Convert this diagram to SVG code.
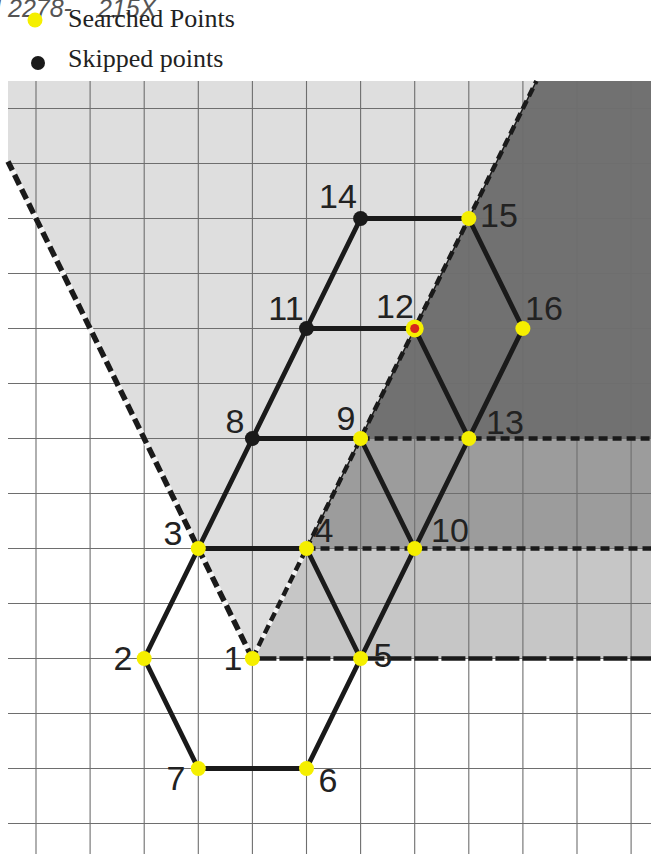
<svg xmlns="http://www.w3.org/2000/svg" width="654" height="854" viewBox="0 0 654 854">
<style>
.lbl{font-family:"Liberation Sans",Arial,sans-serif;font-size:34px;fill:#222;text-anchor:middle}
.leg{font-family:"Liberation Serif","Times New Roman",serif;font-size:26px;fill:#222}
.wm{font-family:"Liberation Sans",Arial,sans-serif;font-size:25px;font-style:italic;fill:#555}
.grid line{stroke:#6e6e6e;stroke-width:1.1}
.edge{stroke:#1a1a1a;stroke-width:4.8;fill:none;stroke-linecap:round;stroke-linejoin:round}
.dash{stroke:#1a1a1a;stroke-width:4.5;fill:none;stroke-dasharray:9 5}
.bdash{stroke:#1a1a1a;stroke-width:5.5;fill:none;stroke-dasharray:11 5}
.wline{stroke:#f4f4f4;stroke-width:5.5;fill:none}
.sp{fill:#f5ef00}
.kp{fill:#1a1a1a}
</style>
<rect width="654" height="854" fill="#ffffff"/>
<text class="wm" x="-17" y="17">N 2278-<tspan x="98">215X</tspan></text>
<circle class="sp" cx="35" cy="20" r="7.5"/>
<text class="leg" x="68" y="27">Searched Points</text>
<circle class="kp" cx="38" cy="63" r="7"/>
<text class="leg" x="68" y="67">Skipped points</text>
<g id="regions">
<polygon points="8,81 536.4,81 252.4,658.5 8,161.5" fill="#dedede"/>
<polygon points="536.4,81 651,81 651,438.5 360.6,438.5" fill="#717171"/>
<polygon points="360.6,438.5 651,438.5 651,548.5 306.5,548.5" fill="#9c9c9c"/>
<polygon points="306.5,548.5 651,548.5 651,658.5 252.4,658.5" fill="#c6c6c6"/>
</g>
<g class="grid" id="grid">
<line x1="36" y1="81" x2="36" y2="854"/>
<line x1="90.1" y1="81" x2="90.1" y2="854"/>
<line x1="144.2" y1="81" x2="144.2" y2="854"/>
<line x1="198.3" y1="81" x2="198.3" y2="854"/>
<line x1="252.4" y1="81" x2="252.4" y2="854"/>
<line x1="306.5" y1="81" x2="306.5" y2="854"/>
<line x1="360.6" y1="81" x2="360.6" y2="854"/>
<line x1="414.7" y1="81" x2="414.7" y2="854"/>
<line x1="468.8" y1="81" x2="468.8" y2="854"/>
<line x1="522.9" y1="81" x2="522.9" y2="854"/>
<line x1="577" y1="81" x2="577" y2="854"/>
<line x1="631.1" y1="81" x2="631.1" y2="854"/>
<line x1="8" y1="108.5" x2="651" y2="108.5"/>
<line x1="8" y1="163.5" x2="651" y2="163.5"/>
<line x1="8" y1="218.5" x2="651" y2="218.5"/>
<line x1="8" y1="273.5" x2="651" y2="273.5"/>
<line x1="8" y1="328.5" x2="651" y2="328.5"/>
<line x1="8" y1="383.5" x2="651" y2="383.5"/>
<line x1="8" y1="438.5" x2="651" y2="438.5"/>
<line x1="8" y1="493.5" x2="651" y2="493.5"/>
<line x1="8" y1="548.5" x2="651" y2="548.5"/>
<line x1="8" y1="603.5" x2="651" y2="603.5"/>
<line x1="8" y1="658.5" x2="651" y2="658.5"/>
<line x1="8" y1="713.5" x2="651" y2="713.5"/>
<line x1="8" y1="768.5" x2="651" y2="768.5"/>
<line x1="8" y1="823.5" x2="651" y2="823.5"/>
</g>
<g id="connectors">
<line class="wline" x1="252.4" y1="658.5" x2="8" y2="161.5"/>
<line class="bdash" x1="252.4" y1="658.5" x2="8" y2="161.5"/>
<line class="wline" x1="252.4" y1="658.5" x2="306.5" y2="548.5" style="stroke-width:4.5"/>
<line class="dash" x1="252.4" y1="658.5" x2="306.5" y2="548.5"/>
<line x1="306.5" y1="548.5" x2="536.4" y2="81" stroke="#1a1a1a" stroke-width="1.5"/>
<line class="dash" x1="306.5" y1="548.5" x2="536.4" y2="81"/>
<line class="dash" x1="360.6" y1="438.5" x2="651" y2="438.5"/>
<line class="dash" x1="306.5" y1="548.5" x2="651" y2="548.5"/>
<line class="dash" x1="252.4" y1="658.5" x2="651" y2="658.5" style="stroke-dasharray:24 3"/>
<polyline class="edge" points="198.3,768.5 144.2,658.5 198.3,548.5 252.4,438.5 306.5,328.5 360.6,218.5 468.8,218.5 522.9,328.5 468.8,438.5 414.7,548.5 360.6,658.5 306.5,768.5 198.3,768.5"/>
<line class="edge" x1="198.3" y1="548.5" x2="306.5" y2="548.5"/>
<line class="edge" x1="306.5" y1="548.5" x2="360.6" y2="658.5"/>
<line class="edge" x1="252.4" y1="438.5" x2="360.6" y2="438.5"/>
<line class="edge" x1="360.6" y1="438.5" x2="414.7" y2="548.5"/>
<line class="edge" x1="306.5" y1="328.5" x2="414.7" y2="328.5"/>
<line class="edge" x1="414.7" y1="328.5" x2="468.8" y2="438.5"/>
</g>
<g id="p1"><circle class="sp" cx="252.4" cy="658.5" r="7.5"/><text class="lbl" x="233" y="670">1</text></g>
<g id="p2"><circle class="sp" cx="144.2" cy="658.5" r="7.5"/><text class="lbl" x="123" y="670">2</text></g>
<g id="p3"><circle class="sp" cx="198.3" cy="548.5" r="7.5"/><text class="lbl" x="173" y="545">3</text></g>
<g id="p4"><circle class="sp" cx="306.5" cy="548.5" r="7.5"/><text class="lbl" x="324" y="542">4</text></g>
<g id="p5"><circle class="sp" cx="360.6" cy="658.5" r="7.5"/><text class="lbl" x="383" y="667">5</text></g>
<g id="p6"><circle class="sp" cx="306.5" cy="768.5" r="7.5"/><text class="lbl" x="328" y="792">6</text></g>
<g id="p7"><circle class="sp" cx="198.3" cy="768.5" r="7.5"/><text class="lbl" x="176" y="790">7</text></g>
<g id="p8"><circle class="kp" cx="252.4" cy="438.5" r="7.5"/><text class="lbl" x="235" y="433">8</text></g>
<g id="p9"><circle class="sp" cx="360.6" cy="438.5" r="7.5"/><text class="lbl" x="346" y="430">9</text></g>
<g id="p10"><circle class="sp" cx="414.7" cy="548.5" r="7.5"/><text class="lbl" x="450" y="542">10</text></g>
<g id="p11"><circle class="kp" cx="306.5" cy="328.5" r="7.5"/><text class="lbl" x="286" y="320">11</text></g>
<g id="p12"><circle class="sp" cx="414.7" cy="328.5" r="9"/><circle cx="414.7" cy="328.5" r="4.5" fill="#d8261c"/><text class="lbl" x="395" y="318">12</text></g>
<g id="p13"><circle class="sp" cx="468.8" cy="438.5" r="7.5"/><text class="lbl" x="505" y="434">13</text></g>
<g id="p14"><circle class="kp" cx="360.6" cy="218.5" r="7.5"/><text class="lbl" x="338" y="208">14</text></g>
<g id="p15"><circle class="sp" cx="468.8" cy="218.5" r="7.5"/><text class="lbl" x="499" y="227">15</text></g>
<g id="p16"><circle class="sp" cx="522.9" cy="328.5" r="7.5"/><text class="lbl" x="544" y="320">16</text></g>
</svg>
